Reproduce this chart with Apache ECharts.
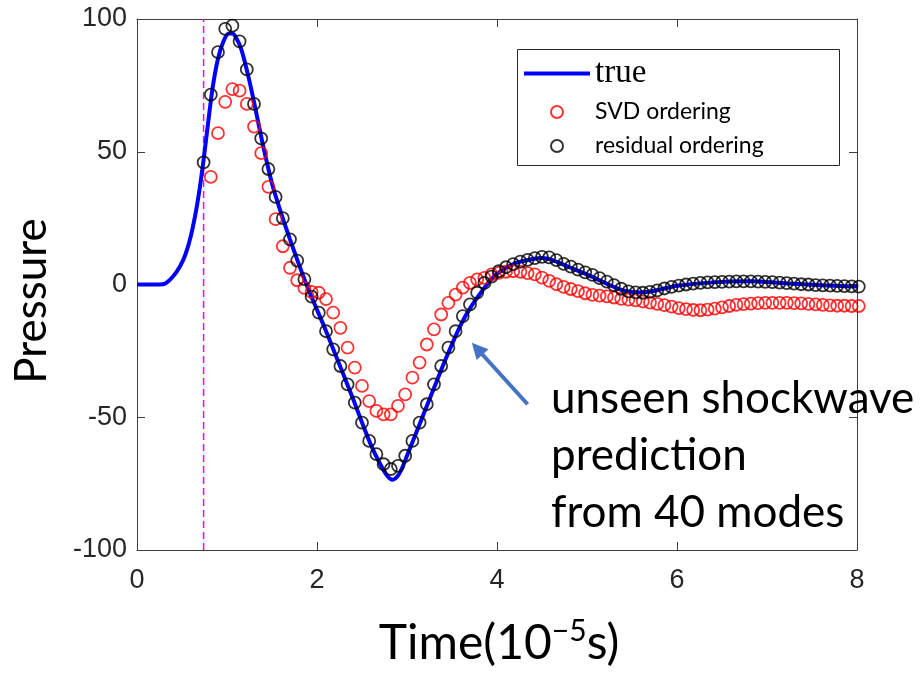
<!DOCTYPE html>
<html>
<head>
<meta charset="utf-8">
<script src="https://cdn.jsdelivr.net/npm/echarts@6/dist/echarts.min.js"></script>
<style>
  html, body { margin: 0; padding: 0; background: #fff; }
  #chart { width: 922px; height: 676px; }
</style>
</head>
<body>
<div id="chart"></div>
<script>
// names shown in the legend
var seriesNames = ['true', 'SVD ordering', 'residual ordering'];

// reference ("true") pressure curve
var trueT = [0, 0.25, 0.32, 0.4, 0.48, 0.54, 0.6, 0.66, 0.7, 0.74,
  0.78, 0.84, 0.9, 0.96, 1.02, 1.06, 1.1, 1.16, 1.24, 1.32,
  1.4, 1.5, 1.6, 1.7, 1.8, 1.9, 2.0, 2.1, 2.2, 2.3,
  2.4, 2.5, 2.6, 2.7, 2.78, 2.84, 2.9, 2.96, 3.0, 3.1,
  3.2, 3.3, 3.4, 3.5, 3.6, 3.7, 3.8, 3.9, 4.0, 4.2,
  4.4, 4.5, 4.6, 4.8, 5.0, 5.2, 5.4, 5.6, 5.8, 6.0,
  6.4, 6.8, 7.2, 7.6, 8.0];
var trueP = [0, 0, 0.5, 3, 7, 11.5, 18.5, 28.5, 37, 47,
  58, 74, 85, 91.5, 94.5, 94.5, 93, 88.5, 78, 65.5,
  52.5, 38, 27, 17, 7.5, -1.5, -9.5, -17.5, -26, -34.5,
  -43, -52, -60.5, -67.5, -72, -73.5, -72, -68, -64.5, -56,
  -47.5, -39, -30.5, -22.5, -15, -9, -4, 0.5, 4.0, 8.0,
  9.6, 10.0, 9.4, 6.6, 3.8, 0.6, -2.2, -3.0, -2.0, -0.5,
  0.8, 1.2, 0.5, -0.3, -0.8];

// prediction sample times
var sampleT = [0.74, 0.82, 0.90, 0.98, 1.06, 1.14, 1.22, 1.30, 1.38, 1.46,
  1.54, 1.62, 1.70, 1.78, 1.86, 1.94, 2.02, 2.10, 2.18, 2.26,
  2.34, 2.42, 2.50, 2.58, 2.66, 2.74, 2.82, 2.90, 2.98, 3.06,
  3.14, 3.22, 3.30, 3.38, 3.46, 3.54, 3.62, 3.70, 3.78, 3.86,
  3.94, 4.02, 4.10, 4.18, 4.26, 4.34, 4.42, 4.50, 4.58, 4.66,
  4.74, 4.82, 4.90, 4.98, 5.06, 5.14, 5.22, 5.30, 5.38, 5.46,
  5.54, 5.62, 5.70, 5.78, 5.86, 5.94, 6.02, 6.10, 6.18, 6.26,
  6.34, 6.42, 6.50, 6.58, 6.66, 6.74, 6.82, 6.90, 6.98, 7.06,
  7.14, 7.22, 7.30, 7.38, 7.46, 7.54, 7.62, 7.70, 7.78, 7.86,
  7.94, 8.02];

var svdP = [null, 40.5, 57, 68.8, 73.6, 73, 68, 59.5, 49.5, 36.8,
  24.6, 14.4, 6.3, 1.6, -1.3, -2.8, -3.1, -5.5, -10.6, -16.3,
  -23.8, -31.3, -38.2, -43.9, -47.6, -48.9, -48.9, -45.7, -41.4, -35.1,
  -29.4, -22.6, -16.9, -11.3, -6.9, -3.8, -1.2, 0.6, 1.9, 2.5,
  3.8, 4.4, 4.8, 5.0, 4.8, 4.3, 3.8, 2.6, 1.4, 0.1,
  -0.9, -1.7, -2.5, -3.3, -3.9, -4.2, -4.5, -4.9, -5.4, -5.7,
  -6.0, -6.4, -6.8, -7.3, -7.8, -8.3, -8.9, -9.3, -9.6, -9.7,
  -9.5, -9.1, -8.6, -8.1, -7.7, -7.4, -7.2, -7.0, -6.9, -6.9,
  -6.9, -6.9, -7.0, -7.1, -7.3, -7.5, -7.7, -7.9, -8.0, -8.0,
  -8.1, -8.1];

var residualP = [46, 71.5, 87.5, 96.3, 97.5, 91.6, 81, 68, 55, 43.5,
  33, 25, 17, 9, 2, -4.6, -10.6, -17.6, -24.4, -30.7,
  -37.6, -44.5, -52, -58.9, -63.9, -67.7, -69.5, -68.3, -64.5, -58.9,
  -52, -45.1, -37.6, -30.7, -23.8, -17.6, -11.9, -7.5, -3.1, 0.6,
  3.0, 5.0, 6.5, 7.7, 8.6, 9.3, 9.9, 10.4, 10.2, 9.2,
  7.8, 6.7, 5.6, 4.6, 3.6, 2.4, 1.1, -0.2, -1.6, -2.6,
  -3.0, -3.1, -2.8, -2.2, -1.5, -0.9, -0.4, 0.0, 0.3, 0.6,
  0.8, 0.9, 1.0, 1.1, 1.2, 1.2, 1.2, 1.1, 1.0, 0.9,
  0.7, 0.5, 0.3, 0.1, 0.0, -0.2, -0.3, -0.4, -0.5, -0.6,
  -0.7, -0.8];

// ticks
var xTicks = [0, 2, 4, 6, 8];
var yTicks = [-100, -50, 0, 50, 100];

// training window start and annotation arrow (data coords)
var cutoffT = 0.74;
var arrowFrom = [4.34, -45.1];
var arrowTo = [3.78, -24.2];

function pairs(xs, ys) {
  var out = [];
  for (var i = 0; i < xs.length; i++) {
    if (ys[i] !== null) out.push([xs[i], ys[i]]);
  }
  return out;
}

var tickFont = { color: '#262626', fontFamily: 'Liberation Sans', fontSize: 27 };
var axisColor = '#404040';

function frameAxis(extra) {
  return Object.assign({
    type: 'value',
    axisLine: { show: true, onZero: false, lineStyle: { color: axisColor, width: 1 } },
    axisTick: { show: true, inside: true, length: 8, lineStyle: { color: axisColor } },
    splitLine: { show: false }
  }, extra);
}

var chart = echarts.init(document.getElementById('chart'), null, { renderer: 'canvas' });
var option = {
  animation: false,
  backgroundColor: '#fff',
  grid: { left: 137, right: 65, top: 19, bottom: 126 },
  legend: {
    orient: 'vertical',
    left: 524,
    top: 57,
    padding: 0,
    itemGap: 10,
    itemWidth: 66,
    itemHeight: 12,
    itemTextGap: 5,
    selectedMode: false,
    data: [
      { name: seriesNames[0], icon: 'path://M0,0h66v4h-66z',
        textStyle: { fontFamily: 'Liberation Serif', fontSize: 33, lineHeight: 24, height: 24, color: '#000' } },
      { name: seriesNames[1],
        textStyle: { fontFamily: 'Lato', fontSize: 23, lineHeight: 24, height: 24, color: '#000' } },
      { name: seriesNames[2],
        textStyle: { fontFamily: 'Lato', fontSize: 23, lineHeight: 24, height: 24, color: '#000' } }
    ]
  },
  xAxis: [
    frameAxis({ min: xTicks[0], max: xTicks[xTicks.length - 1], interval: 2,
      axisLabel: Object.assign({ margin: 17 }, tickFont) }),
    frameAxis({ position: 'top', min: xTicks[0], max: xTicks[xTicks.length - 1], interval: 2,
      axisLabel: { show: false } })
  ],
  yAxis: [
    frameAxis({ min: yTicks[0], max: yTicks[yTicks.length - 1], interval: 50,
      axisLabel: Object.assign({ margin: 10 }, tickFont) }),
    frameAxis({ position: 'right', min: yTicks[0], max: yTicks[yTicks.length - 1], interval: 50,
      axisLabel: { show: false } })
  ],
  series: [
    {
      // dashed start-of-prediction marker
      name: 'cutoff',
      type: 'line',
      data: [[cutoffT, yTicks[0]], [cutoffT, yTicks[yTicks.length - 1]]],
      symbol: 'none',
      silent: true,
      lineStyle: { color: '#ff00ff', width: 1.5, type: [7, 4] },
      z: 1
    },
    {
      name: seriesNames[0],
      type: 'line',
      data: pairs(trueT, trueP),
      showSymbol: false,
      symbol: 'none',
      smooth: 0.3,
      lineStyle: { color: '#0000ff', width: 4 },
      itemStyle: { color: '#0000ff' },
      z: 2,
      markLine: {
        silent: true,
        label: { show: false },
        data: [
          [
            { coord: arrowFrom, symbol: 'none',
              lineStyle: { color: '#4472c4', width: 4, type: 'solid' } },
            { coord: arrowTo, symbol: 'triangle', symbolSize: [16, 16] }
          ]
        ]
      }
    },
    {
      name: seriesNames[1],
      type: 'scatter',
      data: pairs(sampleT, svdP),
      symbol: 'circle',
      symbolSize: 12,
      clip: false,
      itemStyle: { color: 'rgba(0,0,0,0)', borderColor: '#ff0000', borderWidth: 1.8 },
      z: 3
    },
    {
      name: seriesNames[2],
      type: 'scatter',
      data: pairs(sampleT, residualP),
      symbol: 'circle',
      symbolSize: 12,
      clip: false,
      itemStyle: { color: 'rgba(0,0,0,0)', borderColor: '#000000', borderWidth: 1.8 },
      z: 4
    }
  ],
  graphic: [
    {
      type: 'rect', z: 3,
      shape: { x: 517.5, y: 49.5, width: 322, height: 116 },
      style: { fill: '#fff', stroke: '#262626', lineWidth: 1 }
    },
    {
      type: 'text', z: 10, x: 551, y: 370,
      style: {
        text: 'unseen shockwave\nprediction\nfrom 40 modes',
        font: '44px Lato', fill: '#000', lineHeight: 57,
        align: 'left', verticalAlign: 'top'
      }
    },
    {
      type: 'text', z: 10, x: 32, y: 301, rotation: Math.PI / 2,
      style: {
        text: 'Pressure', font: '44px Lato', fill: '#000',
        align: 'center', verticalAlign: 'middle'
      }
    },
    {
      type: 'text', z: 10, x: 499, y: 616,
      style: {
        text: '{a|Time(10}{b|\u22125}{a|s)}',
        align: 'center', verticalAlign: 'top',
        rich: {
          a: { fontFamily: 'Lato', fontSize: 48, lineHeight: 56, color: '#000' },
          b: { fontFamily: 'Lato', fontSize: 30, lineHeight: 38, color: '#000', verticalAlign: 'top' }
        }
      }
    }
  ]
};
chart.setOption(option);
</script>
</body>
</html>
